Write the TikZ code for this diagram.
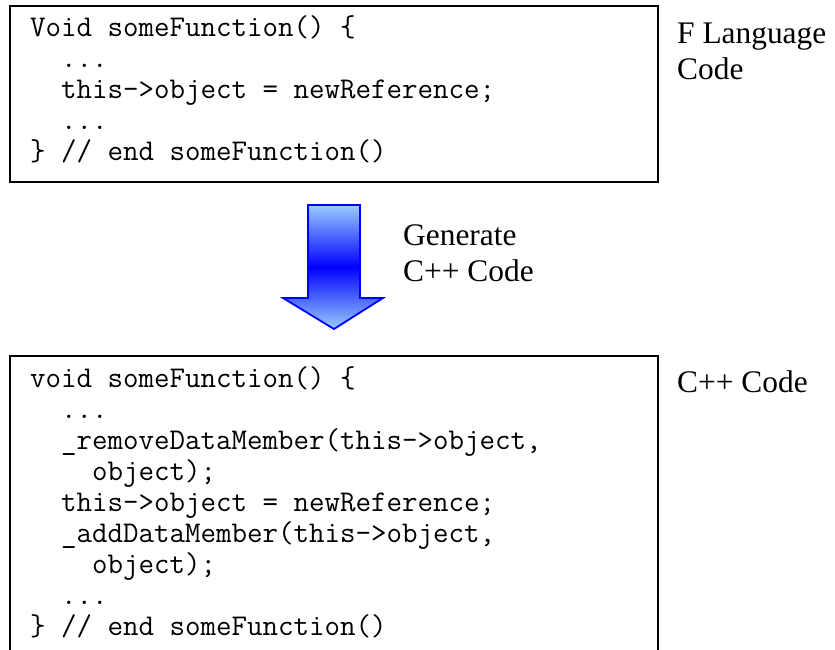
\documentclass[tikz,border=0pt]{standalone}
\usepackage{fontspec}
\setmainfont{Liberation Serif}
\definecolor{arrowblue}{RGB}{0,0,255}
\definecolor{lightblue}{RGB}{153,204,255}
\begin{document}
\begin{tikzpicture}[x=1pt,y=-1pt,
  codebox/.style={draw=black,line width=1.7pt,inner sep=0pt,anchor=north west},
  codetext/.style={anchor=base west,inner sep=0pt,font=\ttfamily\fontsize{30.1}{31}\selectfont},
  sidelabel/.style={anchor=base west,inner sep=0pt,font=\fontsize{31.4}{36}\selectfont},
  genarrow/.style={draw=arrowblue,line width=1.8pt,line join=miter,top color=lightblue,bottom color=lightblue,middle color=arrowblue}]
\useasboundingbox (0,0) rectangle (835,650);
\clip (0,0) rectangle (835,650);
% boxes
\node[codebox,minimum width=648pt,minimum height=176pt] (box1) at (9,5) {};
\node[codebox,minimum width=648pt,minimum height=330pt] (box2) at (9,355) {};
% code
\node[codetext] (code1) at (30,37) {\begin{tabular}[t]{@{}l@{}}
Void someFunction() \{\\
\hphantom{xx}...\\
\hphantom{xx}this->object = newReference;\\
\hphantom{xx}...\\
\} // end someFunction()
\end{tabular}};
\node[codetext] (code2) at (30,387) {\begin{tabular}[t]{@{}l@{}}
void someFunction() \{\\
\hphantom{xx}...\\
\hphantom{xx}\_removeDataMember(this->object,\\
\hphantom{xxxx}object);\\
\hphantom{xx}this->object = newReference;\\
\hphantom{xx}\_addDataMember(this->object,\\
\hphantom{xxxx}object);\\
\hphantom{xx}...\\
\} // end someFunction()
\end{tabular}};
% labels
\node[sidelabel] (lab1) at (677,44) {\begin{tabular}[t]{@{}l@{}}F Language\\Code\end{tabular}};
\node[sidelabel] (lab2) at (677,392) {C++ Code};
\node[sidelabel] (lab3) at (403,245) {\begin{tabular}[t]{@{}l@{}}Generate\\C++ Code\end{tabular}};
% arrow
\shade[genarrow] (308,205) -- (360,205) -- (360,298) -- (383,298) -- (334,329) -- (283,298) -- (308,298) -- cycle;
\end{tikzpicture}
\end{document}
